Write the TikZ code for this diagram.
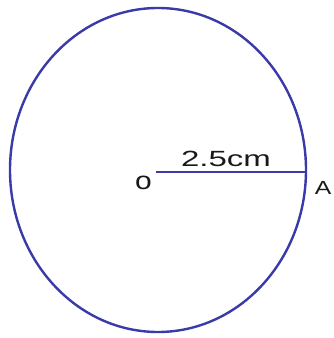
\documentclass[tikz,border=0pt]{standalone}
\usepackage{fontspec}
\setmainfont{Liberation Sans}
\definecolor{penblue}{RGB}{58,58,168}
\begin{document}
\begin{tikzpicture}[x=1pt,y=1pt,
  pen/.style={draw=penblue,line width=2.4pt},
  lab/.style={inner sep=0pt,text=black!90}]
\useasboundingbox (0,0) rectangle (334,338);
\fill[white] (0,0) rectangle (334,338);
\coordinate (O) at (156,166);
\coordinate (A) at (306,166);
\draw[pen] (158,168) ellipse [x radius=148, y radius=162];
\draw[draw=penblue,line width=1.8pt] (O) -- (A);
\node[lab,font=\fontsize{25}{25}\selectfont] (lo) at (143.5,155.5) {\scalebox{1.2}[1]{o}};
\node[lab,font=\fontsize{19}{19}\selectfont] (la) at (323,150) {\scalebox{1.3}[1]{A}};
\node[lab,anchor=base,font=\fontsize{22}{22}\selectfont] (len) at (226,171) {\scalebox{1.5}[1]{2.5cm}};
\end{tikzpicture}
\end{document}
